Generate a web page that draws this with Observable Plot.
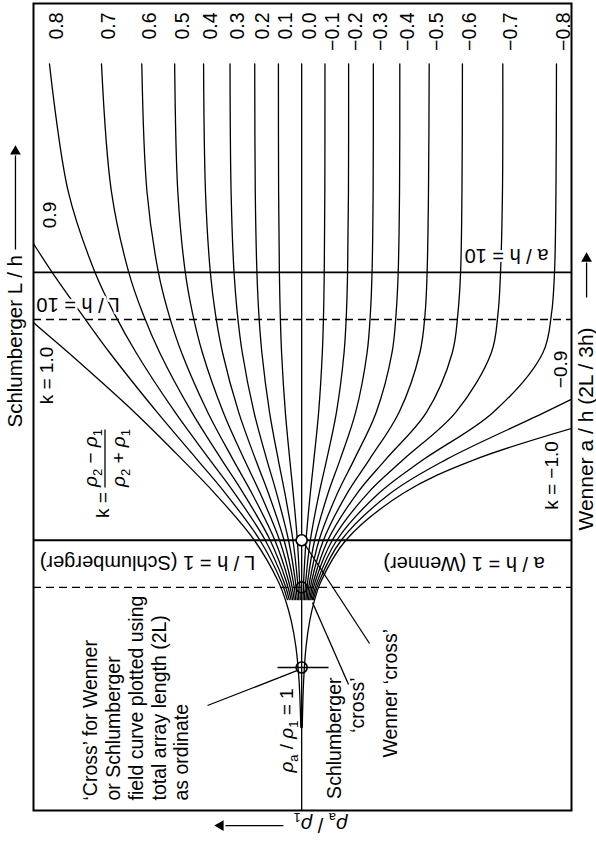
<!DOCTYPE html>
<html><head><meta charset="utf-8">
<script src="https://cdn.jsdelivr.net/npm/d3@7"></script>
<script src="https://cdn.jsdelivr.net/npm/@observablehq/plot@0.6"></script>
<style>
html,body{margin:0;padding:0;background:#fff;}
#chart svg{display:block;}
</style></head><body><div id="chart"></div>
<script>
// ---- Data: Wenner two-layer master curves, rho_a/rho_1 vs a/h ----
const ahMain = [0.6, 0.7, 1, 1.5, 2, 3, 5, 7, 10, 20, 60];
const rhoP08 = [1.113, 1.166, 1.369, 1.785, 2.21, 2.976, 4.162, 5.025, 5.945, 7.483, 8.8];
const rhoP07 = [1.096, 1.141, 1.312, 1.655, 1.995, 2.577, 3.397, 3.931, 4.442, 5.158, 5.62];
const rhoP06 = [1.081, 1.118, 1.26, 1.538, 1.807, 2.246, 2.813, 3.148, 3.44, 3.796, 3.97];
const rhoP05 = [1.066, 1.096, 1.21, 1.431, 1.64, 1.965, 2.352, 2.56, 2.728, 2.91, 2.99];
const rhoP04 = [1.052, 1.075, 1.164, 1.333, 1.488, 1.721, 1.977, 2.104, 2.198, 2.292, 2.33];
const rhoP03 = [1.038, 1.055, 1.12, 1.242, 1.351, 1.508, 1.668, 1.741, 1.792, 1.838, 1.855];
const rhoP02 = [1.025, 1.036, 1.078, 1.156, 1.224, 1.319, 1.409, 1.447, 1.471, 1.492, 1.499];
const rhoP01 = [1.012, 1.018, 1.038, 1.076, 1.108, 1.151, 1.189, 1.203, 1.212, 1.22, 1.222];
const rhoM01 = [0.988, 0.983, 0.963, 0.928, 0.9, 0.864, 0.837, 0.828, 0.823, 0.819, 0.818];
const rhoM02 = [0.977, 0.966, 0.928, 0.86, 0.806, 0.741, 0.694, 0.68, 0.673, 0.668, 0.667];
const rhoM03 = [0.965, 0.95, 0.894, 0.796, 0.718, 0.628, 0.569, 0.553, 0.545, 0.54, 0.539];
const rhoM04 = [0.955, 0.934, 0.861, 0.734, 0.636, 0.526, 0.459, 0.443, 0.435, 0.43, 0.429];
const rhoM05 = [0.944, 0.919, 0.829, 0.675, 0.558, 0.432, 0.361, 0.345, 0.339, 0.335, 0.333];
const rhoM06 = [0.933, 0.904, 0.798, 0.619, 0.485, 0.341, 0.273, 0.26, 0.254, 0.251, 0.25];
const rhoM07 = [0.923, 0.89, 0.768, 0.565, 0.416, 0.265, 0.195, 0.184, 0.18, 0.177, 0.1765];
const rhoM08 = [0.913, 0.875, 0.739, 0.513, 0.35, 0.192, 0.125, 0.116, 0.113, 0.1116, 0.1111];

const ahP09 = [0.6, 0.7, 1, 1.5, 2, 3, 5, 7, 10, 13.4];
const rhoP09 = [1.131, 1.192, 1.433, 1.933, 2.463, 3.474, 5.225, 6.679, 8.6, 10.4];
const ahM09 = [0.6, 0.7, 1, 1.5, 2, 3, 3.6];
const rhoM09 = [0.904, 0.861, 0.711, 0.464, 0.288, 0.123, 0.085];
const ahP10 = [0.2, 0.3, 0.4, 0.5, 0.6, 0.7, 1, 1.5, 2, 3, 5, 6.5, 7];
const rhoP10 = [1.007, 1.023, 1.051, 1.094, 1.151, 1.222, 1.504, 2.12, 2.8, 4.22, 7.45, 10.1, 10.9];
const ahM10 = [0.2, 0.3, 0.4, 0.5, 0.6, 0.7, 1, 1.5, 2, 3];
const rhoM10 = [0.995, 0.983, 0.963, 0.933, 0.894, 0.848, 0.683, 0.415, 0.225, 0.06];
const ahK0 = [0.098, 60];
const rhoK0 = [1, 1];

const mainNames = ["0.8","0.7","0.6","0.5","0.4","0.3","0.2","0.1","−0.1","−0.2","−0.3","−0.4","−0.5","−0.6","−0.7","−0.8"];
const mainRhos = [rhoP08,rhoP07,rhoP06,rhoP05,rhoP04,rhoP03,rhoP02,rhoP01,rhoM01,rhoM02,rhoM03,rhoM04,rhoM05,rhoM06,rhoM07,rhoM08];

// reference spacings
const wennerLevels = [10, 1];          // a/h = 10, a/h = 1 (solid)
const schlumLevels = [20/3, 2/3];      // L/h = 10, L/h = 1 (dashed), a = 2L/3

// ---- build table ----
const rows = [];
function addSeries(name, ahs, rhos) { ahs.forEach((a, i) => rows.push({k: name, ah: a, rho: rhos[i]})); }
mainNames.forEach((n, i) => addSeries(n, ahMain, mainRhos[i]));
addSeries("0.9", ahP09, rhoP09);
addSeries("−0.9", ahM09, rhoM09);
addSeries("1.0", ahP10, rhoP10);
addSeries("−1.0", ahM10, rhoM10);
addSeries("0.0", ahK0, rhoK0);

const topLabels = mainNames.map((n, i) => ({label: n, rho: mainRhos[i][mainRhos[i].length - 1]}));
topLabels.splice(8, 0, {label: "0.0", rho: 1});

// ---- annotation anchors (data coordinates: rho, a/h) ----
const crosses = [{rho: 1, ah: 1, fill: "white"}, {rho: 1, ah: 2/3, fill: "none"}, {rho: 1, ah: 0.335, fill: "none"}];
const leaders = [
  {x1: 2.252, y1: 0.2416, x2: 1.036, y2: 0.3265},
  {x1: 0.6676, y1: 0.2893, x2: 0.911, y2: 0.5855},
  {x1: 0.557, y1: 0.4117, x2: 0.9674, y2: 0.9559},
  {x1: 1.231, y1: 0.335, x2: 0.7932, y2: 0.335},
  {x1: 5.452, y1: 1.573, x2: 5.452, y2: 2.591}
];
const FONT = "Liberation Sans, Arial, Helvetica, sans-serif";

const chart = Plot.plot({
  width: 596, height: 843,
  marginLeft: 33, marginRight: 25, marginTop: 3, marginBottom: 33,
  style: {fontFamily: FONT, background: "white", color: "black"},
  x: {type: "log", domain: [10.1, 0.0976], axis: null},
  y: {type: "log", domain: [0.098, 100.8], axis: null},
  marks: [
    Plot.line(rows, {x: "rho", y: "ah", z: "k", curve: "catmull-rom", stroke: "black", strokeWidth: 1.3, clip: true}),
    Plot.ruleY(wennerLevels, {stroke: "black", strokeWidth: 1.8}),
    Plot.ruleY(schlumLevels, {stroke: "black", strokeWidth: 1.3, strokeDasharray: "8,5"}),
    Plot.link(leaders, {x1: "x1", y1: "y1", x2: "x2", y2: "y2", stroke: "black", strokeWidth: 1.3}),
    Plot.dot(crosses, {x: "rho", y: "ah", r: 5.5, stroke: "black", strokeWidth: 1.6, fill: "fill"}),
    // curve labels at top
    Plot.text(topLabels, {x: "rho", frameAnchor: "top", dy: 9, text: "label", rotate: -90, textAnchor: "end", fontSize: 19.5}),
    // rotated -90 labels
    Plot.text(["0.9"], {x: 8.8, y: 16.37, rotate: -90, fontSize: 19, stroke: "white", strokeWidth: 4, fill: "black", paintOrder: "stroke"}),
    Plot.text(["−0.9"], {x: 0.1073, y: 4.34, rotate: -90, fontSize: 19, stroke: "white", strokeWidth: 4, fill: "black", paintOrder: "stroke"}),
    Plot.text(["k = 1.0"], {x: 8.99, y: 4.12, rotate: -90, fontSize: 19}),
    Plot.text(["k = −1.0"], {x: 0.1155, y: 1.745, rotate: -90, fontSize: 19}),
    Plot.text(["ρ_a / ρ_1 = 1"], {x: 1.135, y: 0.195, rotate: -90, fontSize: 19}),
    Plot.text(["k ="], {x: 5.546, y: 1.354, rotate: -90, fontSize: 19}),
    Plot.text(["ρ_2 − ρ_1"], {x: 6.177, y: 2.028, rotate: -90, fontSize: 19}),
    Plot.text(["ρ_2 + ρ_1"], {x: 4.852, y: 2.028, rotate: -90, fontSize: 19}),
    Plot.text(["‘Cross’ for Wenner\nor Schlumberger\nfield curve plotted using\ntotal array length (2L)\nas ordinate"], {x: 4.192, y: 0.1068, rotate: -90, textAnchor: "start", lineHeight: 1.17, fontSize: 19.5}),
    Plot.text(["Schlumberger\n‘cross’"], {x: 0.688, y: 0.3074, rotate: -90, textAnchor: "end", lineHeight: 1.17, fontSize: 19.5}),
    Plot.text(["Wenner ‘cross’"], {x: 0.4648, y: 0.1545, rotate: -90, textAnchor: "start", fontSize: 19.5}),
    // upside-down labels
    Plot.text(["a / h = 10"], {x: 0.1709, y: 11.56, rotate: 180, fontSize: 20, stroke: "white", strokeWidth: 5, fill: "black", paintOrder: "stroke"}),
    Plot.text(["L / h = 10"], {x: 6.88, y: 7.59, rotate: 180, fontSize: 20, stroke: "white", strokeWidth: 5, fill: "black", paintOrder: "stroke"}),
    Plot.text(["L / h = 1 (Schlumberger)"], {x: 3.778, y: 0.826, rotate: 180, fontSize: 20}),
    Plot.text(["a / h = 1 (Wenner)"], {x: 0.2465, y: 0.819, rotate: 180, fontSize: 20}),
    // outside axis labels
    Plot.text(["Schlumberger L / h"], {x: 11.8, y: 2.635, rotate: -90, textAnchor: "start", fontSize: 20.5}),
    Plot.link([0], {x1: 11.8, x2: 11.8, y1: 12.17, y2: 27.3, stroke: "black", strokeWidth: 1.3}),
    Plot.dot([0], {x: 11.8, y: 28.26, symbol: "triangle", r: 4, fill: "black", stroke: null}),
    Plot.text(["Wenner a / h (2L / 3h)"], {x: 0.0857, y: 1.087, rotate: -90, textAnchor: "start", fontSize: 21}),
    Plot.link([0], {x1: 0.0857, x2: 0.0857, y1: 8.056, y2: 10.88, stroke: "black", strokeWidth: 1.3}),
    Plot.dot([0], {x: 0.0857, y: 11.26, symbol: "triangle", r: 4, fill: "black", stroke: null}),
    Plot.text(["ρ_a / ρ_1"], {x: 0.85, y: 0.0869, rotate: 180, fontSize: 20}),
    Plot.link([0], {x1: 1.17, x2: 1.929, y1: 0.0861, y2: 0.0861, stroke: "black", strokeWidth: 1.3}),
    Plot.dot([0], {x: 2.013, y: 0.0861, symbol: "triangle", r: 4, rotate: -90, fill: "black", stroke: null}),
    Plot.frame({stroke: "black", strokeWidth: 2})
  ]
});

// subscripts and italic rho
const NS = "http://www.w3.org/2000/svg";
d3.select(chart).selectAll("text").each(function() {
  const s = this.textContent;
  if (!s.includes("ρ") || this.querySelector("tspan")) return;
  const fs = parseFloat(getComputedStyle(this).fontSize) || 19;
  while (this.firstChild) this.removeChild(this.firstChild);
  const parts = s.match(/ρ|_.|[^ρ_]+/g);
  let shifted = false;
  for (const p of parts) {
    const t = document.createElementNS(NS, "tspan");
    if (p[0] === "_") {
      t.textContent = p[1];
      t.setAttribute("font-size", (fs * 0.68) + "px");
      t.setAttribute("dy", (fs * 0.28) + "px");
      shifted = true;
    } else {
      t.textContent = p;
      if (p === "ρ") t.setAttribute("font-style", "italic");
      if (shifted) { t.setAttribute("dy", (-fs * 0.28) + "px"); shifted = false; }
    }
    this.appendChild(t);
  }
});

document.getElementById("chart").appendChild(chart);
</script>
</body></html>
